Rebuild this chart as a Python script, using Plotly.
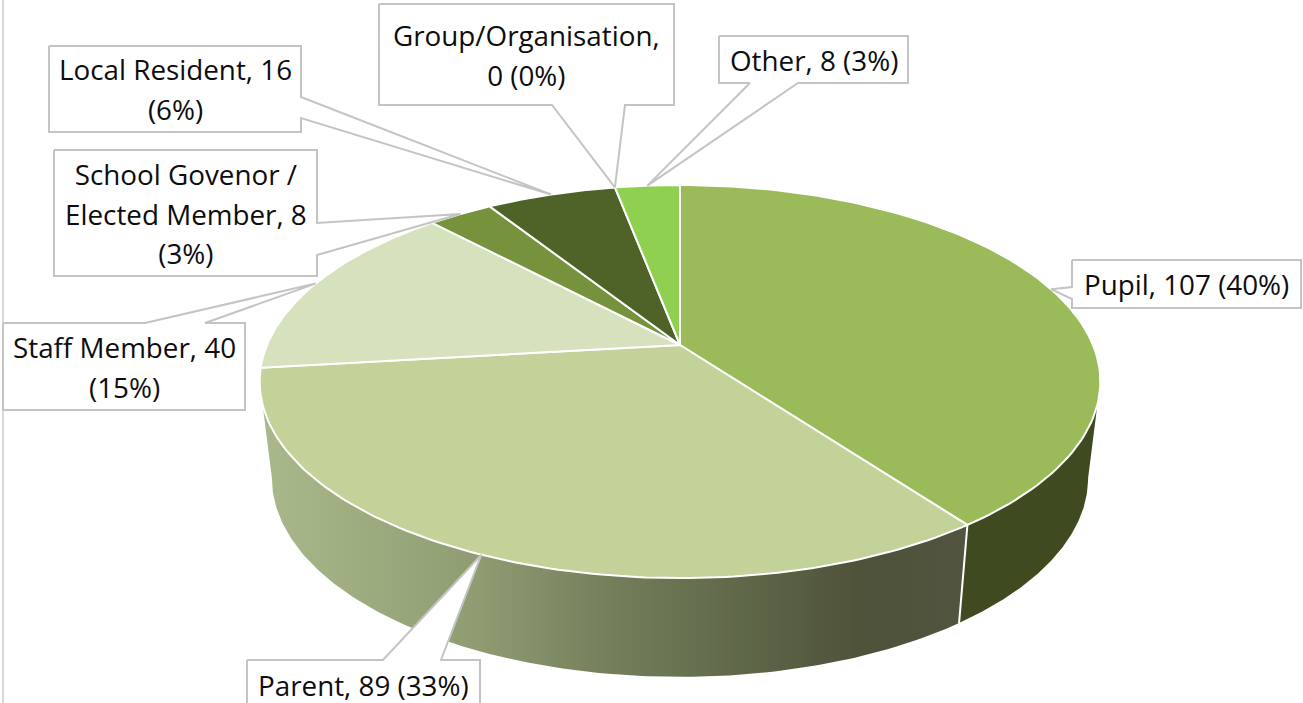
import math
import numpy as np
import plotly.graph_objects as go

categories = ["Pupil", "Parent", "Staff Member", "School Govenor / Elected Member",
              "Local Resident", "Group/Organisation", "Other"]
values = [107, 89, 40, 8, 16, 0, 8]
face_colors = ["#9bba5a", "#c2d299", "#d6e1bd", "#76923c", "#4f6228", "#4f6228", "#90d050"]

# label line wrapping, as in the reference
wrapped = [
    ["{c}, {v} ({p}%)"],
    ["{c}, {v} ({p}%)"],
    ["{c}, {v}", "({p}%)"],
    ["School Govenor /", "Elected Member, {v}", "({p}%)"],
    ["{c}, {v}", "({p}%)"],
    ["{c},", "{v} ({p}%)"],
    ["{c}, {v} ({p}%)"],
]
# callout boxes: x0, y0, x1, y1, wedge base points
boxes = [
    (1072, 260, 1301, 308, [(1072, 287), (1072, 299)]),
    (247, 660, 480, 712, [(383, 660), (441, 660)]),
    (3, 323, 245, 410, [(145, 323), (205, 323)]),
    (54, 150, 317, 276, [(317, 223), (317, 255)]),
    (49, 46, 301, 132, [(301, 97), (301, 118)]),
    (379, 4, 674, 105, [(552, 105), (625, 105)]),
    (719, 36, 908, 83, [(750, 83), (798, 83)]),
]

FONT = "Open Sans"
TEXT_SIZE = 27.8
LINE_GAP = 39.5

# perspective projection of the pie disc onto the page
CX, K = 680.0, 0.186
TOP = dict(cy=345.0, a=189.7, b=413.0)
BOT = dict(cy=441.0, a=192.0, b=401.0)


def rim(theta, d):
    c, s = np.cos(theta), np.sin(theta)
    w = 1 + K * c
    return CX + d["b"] * s / w, d["cy"] - d["a"] * c / w


total = sum(values)
cum = np.concatenate([[0], np.cumsum(values)]) / total * 2 * math.pi
fig = go.Figure()


def poly(xs, ys, **kw):
    fig.add_trace(go.Scatter(x=list(xs), y=list(ys), mode="lines", fill="toself",
                             hoverinfo="skip", showlegend=False, **kw))


# page edge rule
fig.add_trace(go.Scatter(x=[3, 3], y=[0, 703], mode="lines", hoverinfo="skip", showlegend=False,
                         line=dict(color="#d9d9d9", width=2)))


def side(t0, t1, **kw):
    t = np.linspace(t0, t1, 160)
    xt, yt = rim(t, TOP)
    xb, yb = rim(t, BOT)
    poly(np.r_[xt, xb[::-1]], np.r_[yt, yb[::-1]], **kw)


tan_r = math.pi - math.acos(K)
tan_l = math.pi + math.acos(K)
side(tan_r, cum[1], fillcolor="#3f4a20", line=dict(width=0, color="#3f4a20"))
side(cum[1], tan_l, line=dict(width=0, color="#7a8560"), fillcolor="rgba(0,0,0,0)",
     fillgradient=dict(type="horizontal", colorscale=[
         [0.0, "#aab98c"], [0.31, "#8f9c72"], [0.50, "#737e5a"], [0.69, "#5e6648"],
         [0.85, "#4e5239"], [1.0, "#51543f"]]))
xs0, ys0 = rim(np.array([cum[1]]), TOP)
xs1, ys1 = rim(np.array([cum[1]]), BOT)
fig.add_trace(go.Scatter(x=[xs0[0], xs1[0]], y=[ys0[0], ys1[0]], mode="lines", hoverinfo="skip",
                         showlegend=False, line=dict(color="white", width=2)))

# top faces
for i, col in enumerate(face_colors):
    if values[i] == 0:
        continue
    t = np.linspace(cum[i], cum[i + 1], 120)
    x, y = rim(t, TOP)
    poly(np.r_[CX, x, CX], np.r_[TOP["cy"], y, TOP["cy"]], fillcolor=col,
         line=dict(color="white", width=2))

# callouts
annotations = []
for i, cat in enumerate(categories):
    x0, y0, x1, y1, base = boxes[i]
    mid = (cum[i] + cum[i + 1]) / 2
    tx, ty = rim(np.array([mid]), TOP)
    tip = (float(tx[0]), float(ty[0]))
    (bx0, by0), (bx1, by1) = base
    if bx0 == x0:      # wedge on left side
        px = [x0, x1, x1, x0, bx1, tip[0], bx0, x0]
        py = [y0, y0, y1, y1, by1, tip[1], by0, y0]
    elif bx0 == x1:    # wedge on right side
        px = [x0, x1, bx0, tip[0], bx1, x1, x0, x0]
        py = [y0, y0, by0, tip[1], by1, y1, y1, y0]
    elif by0 == y1:    # wedge on bottom
        px = [x0, x1, x1, bx1, tip[0], bx0, x0, x0]
        py = [y0, y0, y1, y1, tip[1], y1, y1, y0]
    else:              # wedge on top
        px = [x0, bx0, tip[0], bx1, x1, x1, x0, x0]
        py = [y0, y0, tip[1], y0, y0, y1, y1, y0]
    poly(px, py, fillcolor="white", line=dict(color="#c4c4c4", width=2))
    pct = round(values[i] / total * 100)
    lines = [w.format(c=cat, v=values[i], p=pct) for w in wrapped[i]]
    html = "<br>".join(f"<span style='font-size:{TEXT_SIZE}px'>{l}</span>" for l in lines)
    annotations.append(dict(x=(x0 + x1) / 2, y=(y0 + y1) / 2 if i != 1 else 685,
                            xref="x", yref="y", text=html, showarrow=False,
                            xanchor="center", yanchor="middle", align="center",
                            font=dict(family=FONT, size=LINE_GAP / 1.3, color="#0d0d0d")))

fig.update_layout(
    width=1303, height=703, margin=dict(l=0, r=0, t=0, b=0),
    paper_bgcolor="white", plot_bgcolor="white", annotations=annotations,
    xaxis=dict(range=[0, 1303], visible=False, fixedrange=True),
    yaxis=dict(range=[703, 0], visible=False, fixedrange=True),
)
fig.write_html("out.html", config={"displayModeBar": False},
               post_script="document.body.style.margin='0';document.body.style.overflow='hidden';")
